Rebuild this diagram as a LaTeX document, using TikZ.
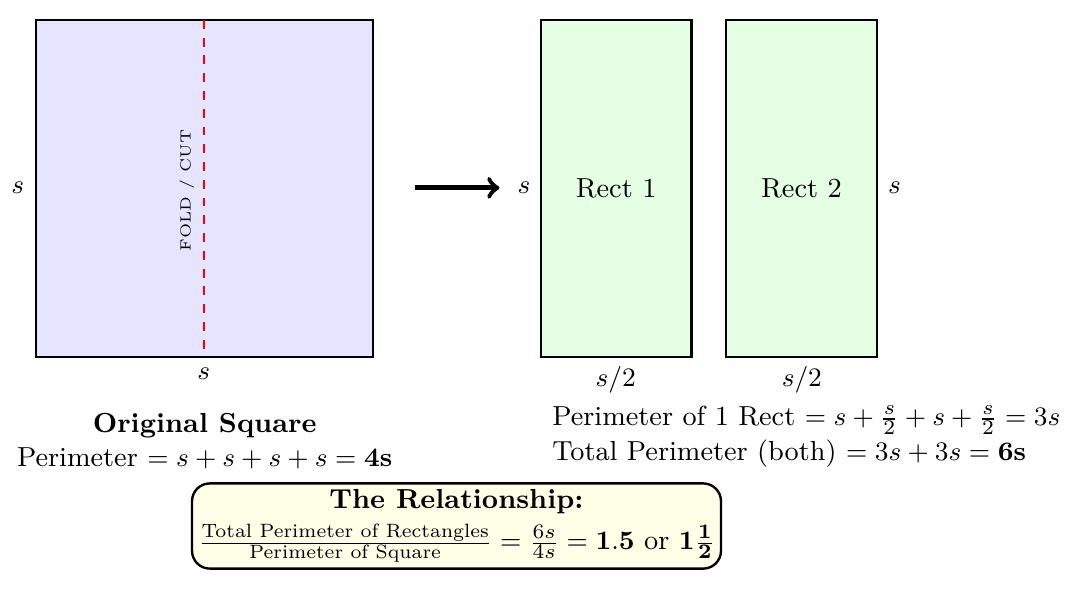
\documentclass[tikz,border=0pt]{standalone}
\usepackage{amsmath}
\begin{document}
\begin{tikzpicture}[font=\fontsize{9.3}{11}\selectfont,
    sqbox/.style={draw, thick, fill=blue!10},
    rectbox/.style={draw, thick, fill=green!10},
    lbl/.style={inner sep=1pt}]
    \useasboundingbox (0,0) rectangle (12.68,-7.15);
    % square
    \draw [sqbox] (0.427,-0.237) rectangle (4.427,-4.237);
    \coordinate (ctop) at (2.42,-0.237);
    \coordinate (cbot) at (2.42,-4.237);
    \draw [red, thick, dashed] (ctop) -- (cbot);
    \node [rotate=90, font=\tiny] (fold) at (2.22,-2.26) {FOLD / CUT};
    \node [lbl] (sl) at (0.21,-2.23) {$s$};
    \node [lbl] (sb) at (2.42,-4.44) {$s$};
    % arrow
    \coordinate (a1) at (4.93,-2.23);
    \coordinate (a2) at (5.93,-2.23);
    \draw [ultra thick, ->] (a1) -- (a2);
    % rectangles
    \draw [rectbox] (6.42,-0.237) rectangle (8.21,-4.237) node [pos=.5] (r1) {Rect 1};
    \draw [rectbox] (8.62,-0.237) rectangle (10.41,-4.237) node [pos=.5] (r2) {Rect 2};
    \node [lbl] (s1) at (6.22,-2.23) {$s$};
    \node [lbl] (s2) at (10.62,-2.23) {$s$};
    \node [lbl] (h1) at (7.31,-4.51) {$s/2$};
    \node [lbl] (h2) at (9.52,-4.51) {$s/2$};
    % captions
    \node (orig) at (2.43,-5.05) {\textbf{Original Square}};
    \node (psq) at (2.43,-5.44) {Perimeter $= s+s+s+s = \mathbf{4s}$};
    \node [anchor=west, inner sep=0pt] (prect) at (6.55,-4.99) {Perimeter of 1 Rect $= s+\frac{s}{2}+s+\frac{s}{2} = 3s$};
    \node [anchor=west, inner sep=0pt] (ptot) at (6.55,-5.38) {Total Perimeter (both) $= 3s+3s = \mathbf{6s}$};
    % relationship
    \node [draw, thick, rounded corners=6pt, fill=yellow!10, minimum width=6.28cm, minimum height=0.97cm, align=center, inner sep=2pt] (rel) at (5.42,-6.245)
        {\textbf{The Relationship:}\\[3pt]
         $\frac{\text{Total Perimeter of Rectangles}}{\text{Perimeter of Square}} = \frac{6s}{4s} = \mathbf{1.5}$ or $\mathbf{1\frac{1}{2}}$};
\end{tikzpicture}
\end{document}
